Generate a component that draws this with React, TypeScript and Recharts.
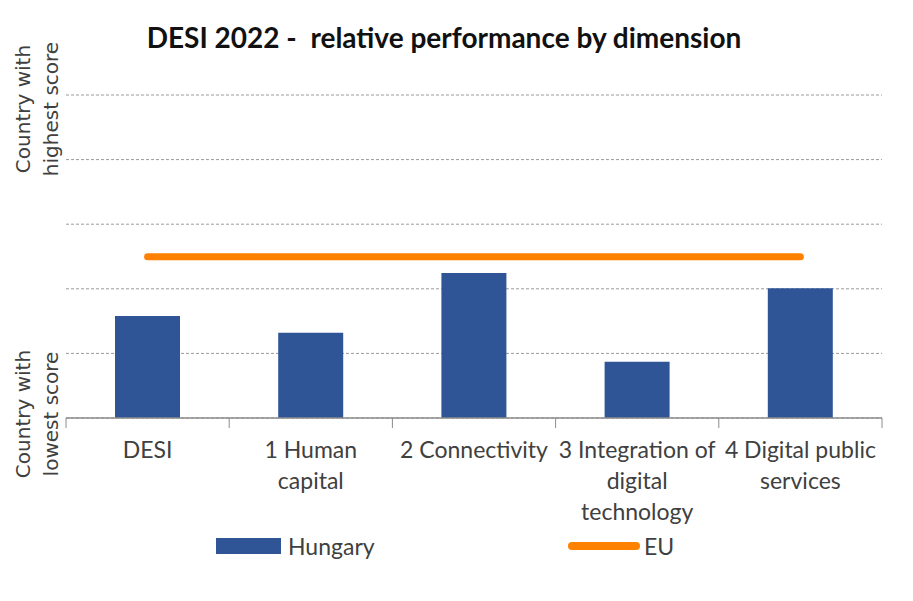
import React from "react";
import {
  ComposedChart,
  Bar,
  Line,
  XAxis,
  YAxis,
  CartesianGrid,
} from "recharts";

const categories = [
  "DESI",
  "1 Human capital",
  "2 Connectivity",
  "3 Integration of digital technology",
  "4 Digital public services",
];
// how each category label wraps under the axis
const tickLines = [
  ["DESI"],
  ["1 Human", "capital"],
  ["2 Connectivity"],
  ["3 Integration of", "digital", "technology"],
  ["4 Digital public", "services"],
];
const hungary = [31.6, 26.4, 44.9, 17.4, 40.2];
const eu = [49.9, 49.9, 49.9, 49.9, 49.9];
const yTicks = [0, 20, 40, 60, 80, 100];

const BLUE = "#2F5597";
const ORANGE = "#FF8100";
const LABEL_FONT = "Lato, 'Noto Sans', sans-serif";

const data = categories.map((c, i) => ({
  name: c,
  hungary: hungary[i],
  eu: eu[i],
}));

function CategoryTick(props: any) {
  const { x, y, payload, index } = props;
  const lines = tickLines[index] || [payload.value];
  const half = payload.offset ?? 81.6;
  const last = index === categories.length - 1;
  return (
    <g>
      <line x1={x - half} x2={x - half} y1={y} y2={y + 10} stroke="#8c8c8c" />
      {last && (
        <line x1={x + half} x2={x + half} y1={y} y2={y + 10} stroke="#8c8c8c" />
      )}
      <text
        textAnchor="middle"
        fontFamily={LABEL_FONT}
        fontSize={23}
        fill="#404040"
      >
        {lines.map((l: string, k: number) => (
          <tspan key={k} x={x} y={y + 40 + k * 31}>
            {l}
          </tspan>
        ))}
      </text>
    </g>
  );
}

function SideLabel({ top, second, cy }: { top: string; second: string; cy: number }) {
  return (
    <g fontFamily="'DejaVu Sans', sans-serif" fontSize={20} fill="#404040">
      <text x={30} y={cy} textAnchor="middle" transform={`rotate(-90, 30, ${cy})`}>
        {top}
      </text>
      <text x={58} y={cy} textAnchor="middle" transform={`rotate(-90, 58, ${cy})`}>
        {second}
      </text>
    </g>
  );
}

export default function App() {
  return (
    <div
      style={{
        position: "absolute",
        left: 0,
        top: 0,
        width: 913,
        height: 601,
        background: "#fff",
      }}
    >
      <div
        style={{
          position: "absolute",
          left: 0,
          width: 888,
          top: 20,
          textAlign: "center",
          fontFamily: LABEL_FONT,
          fontWeight: 700,
          fontSize: 28,
          color: "#111",
          whiteSpace: "pre",
        }}
      >
        {"DESI 2022 -  relative performance by dimension"}
      </div>

      <ComposedChart
        width={913}
        height={601}
        data={data}
        margin={{ top: 95, right: 31, left: 66, bottom: 73 }}
      >
        <CartesianGrid
          vertical={false}
          stroke="#9a9a9a"
          strokeDasharray="3 2"
        />
        <YAxis hide domain={[0, 100]} ticks={yTicks} />
        <XAxis
          dataKey="name"
          height={110}
          interval={0}
          tickSize={0}
          tickMargin={0}
          tickLine={false}
          axisLine={{ stroke: "#8c8c8c", strokeWidth: 1.5 }}
          tick={<CategoryTick />}
        />
        <Bar
          dataKey="hungary"
          fill={BLUE}
          barSize={65}
          isAnimationActive={false}
        />
        <Line
          dataKey="eu"
          stroke={ORANGE}
          strokeWidth={7}
          strokeLinecap="round"
          dot={false}
          activeDot={false}
          isAnimationActive={false}
        />
      </ComposedChart>

      <svg
        width={913}
        height={601}
        style={{ position: "absolute", left: 0, top: 0, pointerEvents: "none" }}
      >
        <SideLabel top="Country with" second="highest score" cy={109} />
        <SideLabel top="Country with" second="lowest score" cy={414} />
      </svg>

      {/* legend */}
      <div
        style={{
          position: "absolute",
          left: 216,
          top: 532,
          display: "flex",
          alignItems: "center",
          fontFamily: LABEL_FONT,
          fontSize: 23,
          color: "#404040",
        }}
      >
        <span
          style={{ width: 65, height: 16, background: BLUE, marginRight: 7 }}
        />
        Hungary
      </div>
      <div
        style={{
          position: "absolute",
          left: 568,
          top: 532,
          display: "flex",
          alignItems: "center",
          fontFamily: LABEL_FONT,
          fontSize: 23,
          color: "#404040",
        }}
      >
        <span
          style={{
            width: 72,
            height: 8,
            borderRadius: 4,
            background: ORANGE,
            marginRight: 4,
          }}
        />
        EU
      </div>
    </div>
  );
}
